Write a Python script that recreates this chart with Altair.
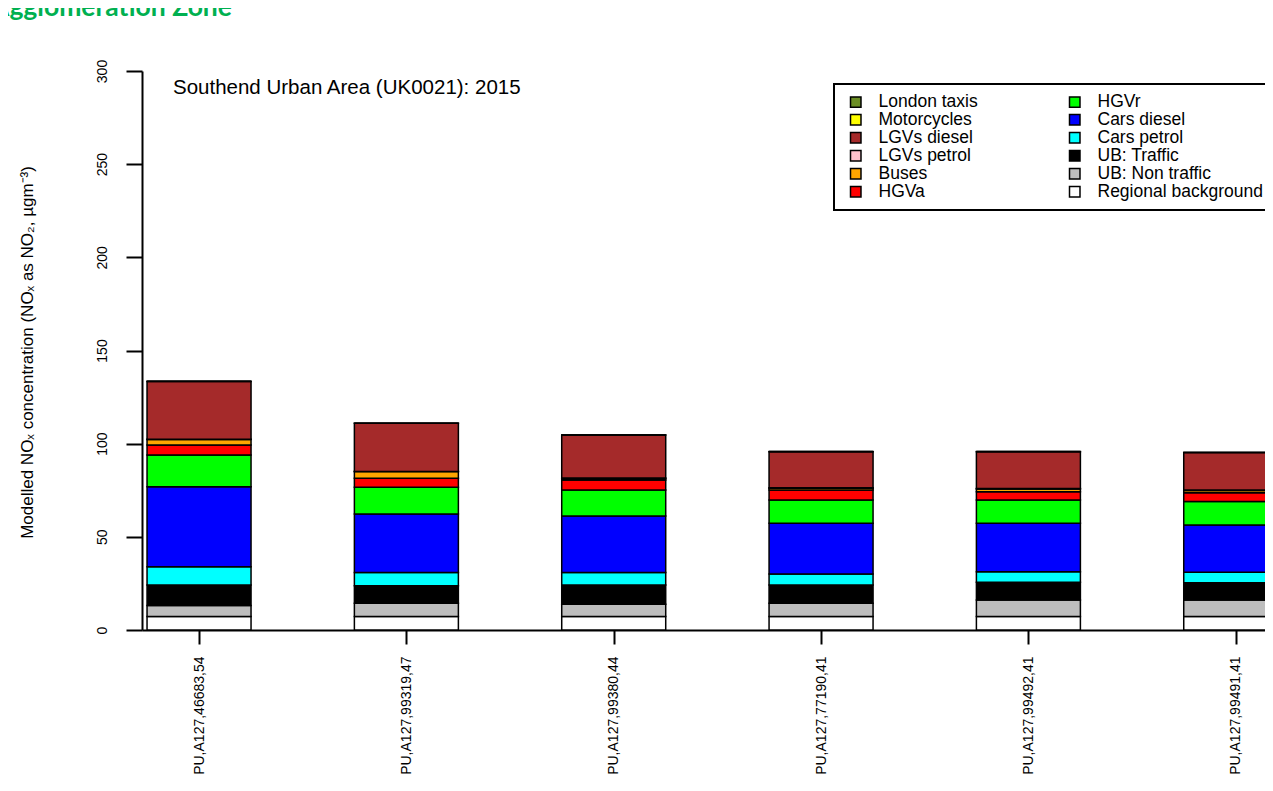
import altair as alt
import pandas as pd

# ---------------- data ----------------
sites = ["PU,A127,46683,54", "PU,A127,99319,47", "PU,A127,99380,44",
         "PU,A127,77190,41", "PU,A127,99492,41", "PU,A127,99491,41"]

# source components, stacked bottom -> top
components = ["Regional background", "UB: Non traffic", "UB: Traffic", "Cars petrol",
              "Cars diesel", "HGVr", "HGVa", "Buses", "LGVs petrol", "LGVs diesel",
              "Motorcycles", "London taxis"]

regional_background = [7.2, 7.2, 7.2, 7.2, 7.2, 7.2]
ub_non_traffic = [5.9, 7.1, 6.6, 7.1, 8.9, 8.9]
ub_traffic = [11.1, 9.5, 10.4, 9.9, 9.5, 9.3]
cars_petrol = [9.8, 7.0, 6.6, 5.9, 5.7, 5.6]
cars_diesel = [42.9, 31.5, 30.4, 27.2, 26.0, 25.4]
hgv_rigid = [17.0, 14.3, 13.9, 12.5, 12.5, 12.5]
hgv_artic = [5.4, 4.8, 5.4, 5.3, 4.4, 4.8]
buses = [3.0, 3.6, 0.8, 1.0, 1.5, 1.1]
lgvs_petrol = [0.1, 0.1, 0.3, 0.3, 0.3, 0.3]
lgvs_diesel = [31.0, 25.8, 23.0, 19.3, 19.7, 20.1]
motorcycles = [0.1, 0.1, 0.1, 0.1, 0.1, 0.1]
london_taxis = [0.0, 0.0, 0.0, 0.0, 0.0, 0.0]

series = [regional_background, ub_non_traffic, ub_traffic, cars_petrol, cars_diesel,
          hgv_rigid, hgv_artic, buses, lgvs_petrol, lgvs_diesel, motorcycles, london_taxis]

legend_col1 = ["London taxis", "Motorcycles", "LGVs diesel", "LGVs petrol", "Buses", "HGVa"]
legend_col2 = ["HGVr", "Cars diesel", "Cars petrol", "UB: Traffic", "UB: Non traffic",
               "Regional background"]

colors = {
    "London taxis": "#6B8E23", "Motorcycles": "#FFFF00", "LGVs diesel": "#A52A2A",
    "LGVs petrol": "#FFC0CB", "Buses": "#FFA500", "HGVa": "#FF0000",
    "HGVr": "#00FF00", "Cars diesel": "#0000FF", "Cars petrol": "#00FFFF",
    "UB: Traffic": "#000000", "UB: Non traffic": "#BEBEBE", "Regional background": "#FFFFFF",
}

chart_title = "Southend Urban Area (UK0021): 2015"
header_text = "Agglomeration Zone"
y_title = "Modelled NOₓ concentration (NOₓ as NO₂, µgm⁻³)"

# ---------------- table ----------------
rows = []
for k, (comp, vals) in enumerate(zip(components, series)):
    for i, v in enumerate(vals):
        rows.append({"idx": i, "site": sites[i], "component": comp, "value": v, "k": k})
df = pd.DataFrame(rows)

# legend fills column by column
legend_domain = legend_col1 + legend_col2
legend_range = [colors[c] for c in legend_domain]

FONT = "Liberation Sans"
label_expr = "[" + ",".join("'" + s + "'" for s in sites) + "][datum.value]"

bars = alt.Chart(df).mark_bar(size=104, stroke="black", strokeWidth=1.5, clip=True).encode(
    x=alt.X("idx:Q",
            scale=alt.Scale(domain=[-0.251, 5.117], nice=False, zero=False),
            axis=alt.Axis(values=list(range(len(sites))), labelExpr=label_expr, title=None,
                          tickSize=14, labelAngle=270, labelAlign="right",
                          labelBaseline="middle", labelPadding=12, labelFontSize=14,
                          grid=False, labelFlush=False, labelOverlap=False)),
    y=alt.Y("value:Q", stack="zero",
            scale=alt.Scale(domain=[0, 300], nice=False),
            axis=alt.Axis(values=[0, 50, 100, 150, 200, 250, 300], title=y_title,
                          tickSize=16, labelPadding=20, labelAngle=270,
                          labelAlign="center", labelBaseline="alphabetic",
                          labelFontSize=14, titleFontSize=17, titleFontWeight="normal",
                          titleX=-110, titleY=281, titleAngle=270,
                          titleBaseline="alphabetic", titleAlign="center",
                          grid=False, labelFlush=False, labelOverlap=False)),
    color=alt.Color("component:N",
                    scale=alt.Scale(domain=legend_domain, range=legend_range),
                    legend=alt.Legend(title=None, orient="none", legendX=692, legendY=13,
                                      columns=2, symbolType="square", symbolSize=110,
                                      symbolStrokeColor="black", symbolStrokeWidth=1.5,
                                      symbolOpacity=1, symbolOffset=4,
                                      labelFontSize=17.5, labelFont=FONT,
                                      labelColor="black", labelOffset=14,
                                      columnPadding=84, rowPadding=-1, padding=9,
                                      labelLimit=400, strokeColor="black",
                                      fillColor="white")),
    order=alt.Order("k:Q", sort="ascending"),
)

title_layer = alt.Chart(pd.DataFrame({"t": [chart_title]})).mark_text(
    align="left", baseline="alphabetic", fontSize=20.5, font=FONT, color="black"
).encode(x=alt.value(31), y=alt.value(23), text="t:N")

header_layer = alt.Chart(pd.DataFrame({"t": [header_text]})).mark_text(
    align="left", baseline="alphabetic", fontSize=26.5, font="Lato", fontWeight="bold",
    color="#00B050"
).encode(x=alt.value(-151), y=alt.value(-55), text="t:N")

chart = alt.layer(bars, title_layer, header_layer).properties(
    width=1123, height=559,
    padding={"left": 134, "top": 63, "right": 0, "bottom": 146},
    autosize=alt.AutoSizeParams(type="none"),
).configure_view(stroke=None).configure_axis(
    domainColor="black", domainWidth=2, tickColor="black", tickWidth=2,
    labelColor="black", titleColor="black", labelFont=FONT, titleFont=FONT,
).configure_legend(strokeWidth=2)

chart.save("out.html", embed_options={"renderer": "svg", "actions": False})
